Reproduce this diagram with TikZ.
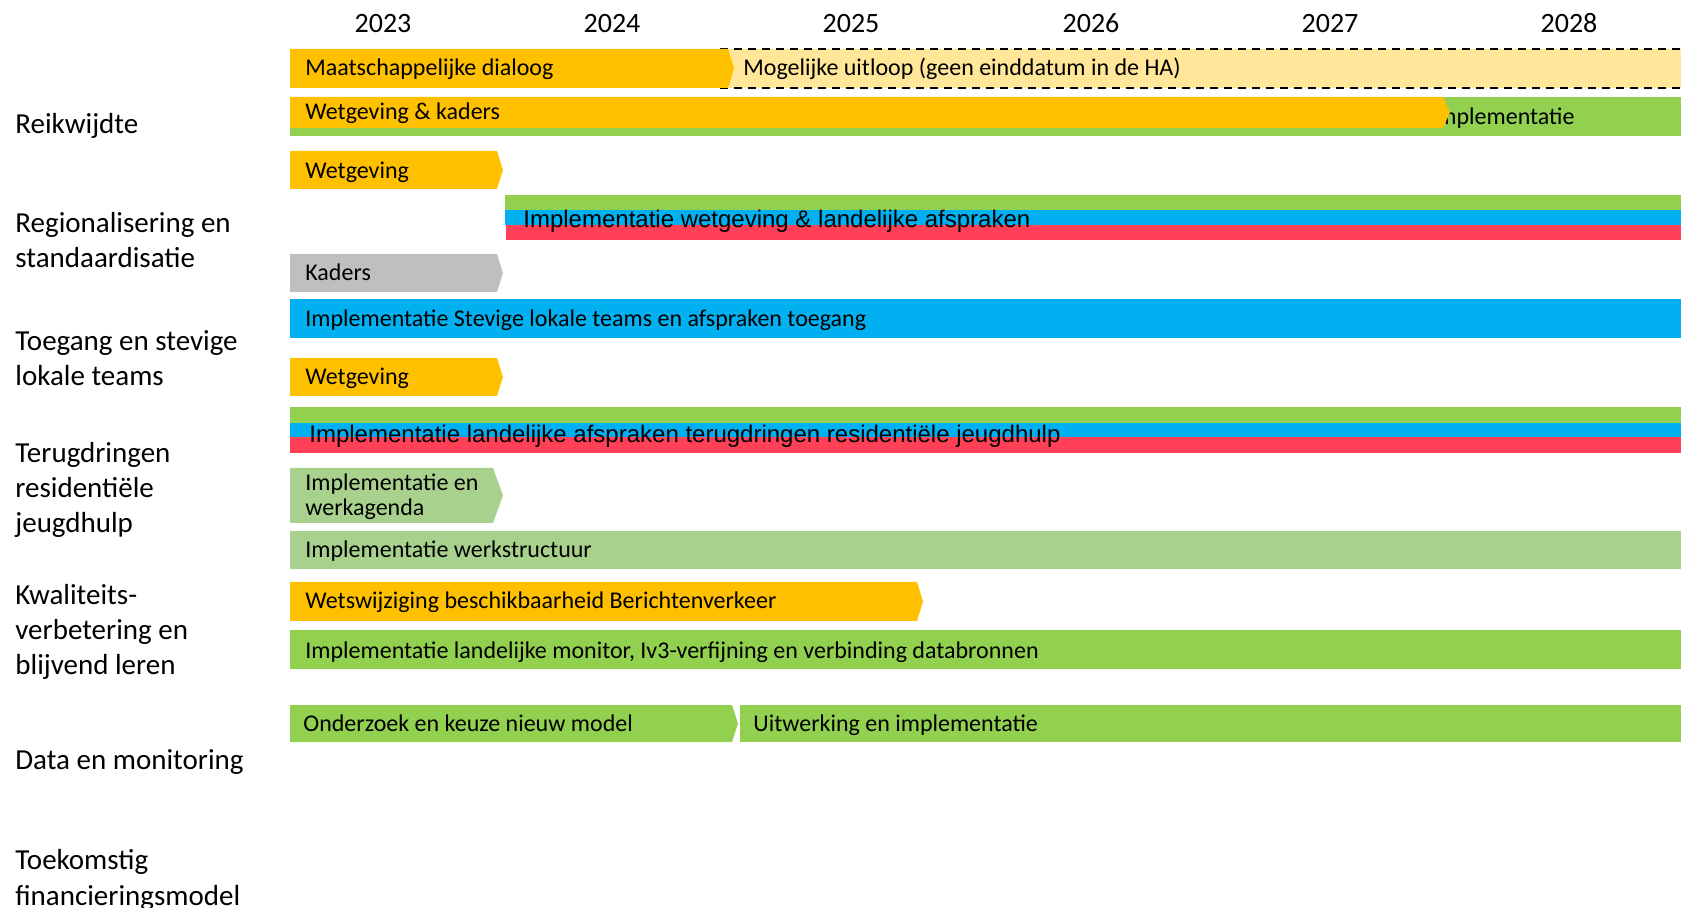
\documentclass[tikz,border=0pt]{standalone}
\usepackage{fontspec}
\setmainfont{Carlito}
\newfontfamily\arialfont{Liberation Sans}
\definecolor{cOrange}{HTML}{FFC000}
\definecolor{cPale}{HTML}{FFE699}
\definecolor{cGreen}{HTML}{92D050}
\definecolor{cLightGreen}{HTML}{A9D18E}
\definecolor{cBlue}{HTML}{00B0F0}
\definecolor{cRed}{HTML}{FF4057}
\definecolor{cGray}{HTML}{BFBFBF}
\begin{document}
\begin{tikzpicture}[x=0.5pt,y=-0.5pt,
		yeartxt/.style={anchor=base,inner sep=0pt,font=\fontsize{14}{16}\selectfont},
		bartxt/.style={anchor=base west,inner sep=0pt,font=\fontsize{12}{12.8}\selectfont},
		triotxt/.style={anchor=base west,inner sep=0pt,font=\arialfont\fontsize{12}{13}\selectfont},
		lbltxt/.style={anchor=base west,inner sep=0pt,align=left,font=\fontsize{14.5}{17.7}\selectfont}]
			\useasboundingbox (0,0) rectangle (1681,908);
			% jaren
			\node[yeartxt] (y2023) at (383,33) {2023};
			\node[yeartxt] (y2024) at (612,33) {2024};
			\node[yeartxt] (y2025) at (851,33) {2025};
			\node[yeartxt] (y2026) at (1091,33) {2026};
			\node[yeartxt] (y2027) at (1330,33) {2027};
			\node[yeartxt] (y2028) at (1569,33) {2028};
			% thema's (base = laatste regel)
			\node[lbltxt] (reik) at (15,134) {Reikwijdte};
			\node[lbltxt] (regio) at (15,268) {Regionalisering en\\standaardisatie};
			\node[lbltxt] (toeg) at (15,386) {Toegang en stevige\\lokale teams};
			\node[lbltxt] (terug) at (15,533) {Terugdringen\\residenti\"ele\\jeugdhulp};
			\node[lbltxt] (kwal) at (15,675) {Kwaliteits-\\verbetering en\\blijvend leren};
			\node[lbltxt] (data) at (15,769) {Data en monitoring};
			\node[lbltxt] (fin) at (15,905) {Toekomstig\\financieringsmodel};
			% reikwijdte
			\fill[cPale] (720,49) rectangle (1681,88);
			\draw[line width=1pt,dash pattern=on 4pt off 3pt] (720,49) -- (1681,49);
			\draw[line width=1pt,dash pattern=on 4pt off 3pt] (720,88) -- (1681,88);
			\fill[cOrange] (290,49) -- (728,49) -- (734,68.5) -- (728,88) -- (290,88) -- cycle;
			\node[bartxt] (dialoog) at (305,76) {Maatschappelijke dialoog};
			\node[bartxt] (uitloop) at (743,76) {Mogelijke uitloop (geen einddatum in de HA)};
			\fill[cGreen] (290,97) rectangle (1681,136);
			\node[bartxt] (impl) at (1431,125) {Implementatie};
			\fill[cOrange] (290,97) -- (1443,97) -- (1450,112.5) -- (1443,128) -- (290,128) -- cycle;
			\node[bartxt] (wetkad) at (305,120) {Wetgeving \& kaders};
			% regionalisering
			\fill[cOrange] (290,151) -- (497,151) -- (503,170) -- (497,189) -- (290,189) -- cycle;
			\node[bartxt] (wet1) at (305,179) {Wetgeving};
			\fill[cGreen] (505,195) rectangle (1681,210);
			\fill[cBlue] (505,210) rectangle (1681,225);
			\fill[cRed] (506,225) rectangle (1681,240);
			\node[triotxt] (implwet) at (523,228) {Implementatie wetgeving \& landelijke afspraken};
			\fill[cGray] (290,254) -- (497,254) -- (503,273) -- (497,292) -- (290,292) -- cycle;
			\node[bartxt] (kaders) at (305,281) {Kaders};
			% toegang
			\fill[cBlue] (290,299) rectangle (1681,338);
			\node[bartxt] (stevig) at (305,327) {Implementatie Stevige lokale teams en afspraken toegang};
			% residentieel
			\fill[cOrange] (290,358) -- (497,358) -- (503,377) -- (497,396) -- (290,396) -- cycle;
			\node[bartxt] (wet2) at (305,385) {Wetgeving};
			\fill[cGreen] (290,407) rectangle (1681,423);
			\fill[cBlue] (290,423) rectangle (1681,437);
			\fill[cRed] (290,437) rectangle (1681,453);
			\node[triotxt] (implres) at (309,443) {Implementatie landelijke afspraken terugdringen residenti\"ele jeugdhulp};
			% kwaliteit
			\fill[cLightGreen] (290,468) -- (493,468) -- (503,495.5) -- (493,523) -- (290,523) -- cycle;
			\node[bartxt,align=left] (werkag) at (305,516) {Implementatie en\\werkagenda};
			\fill[cLightGreen] (290,531) rectangle (1681,569);
			\node[bartxt] (werkstr) at (305,558) {Implementatie werkstructuur};
			% data
			\fill[cOrange] (290,582) -- (917,582) -- (923,601.5) -- (917,621) -- (290,621) -- cycle;
			\node[bartxt] (berver) at (305,609) {Wetswijziging beschikbaarheid Berichtenverkeer};
			\fill[cGreen] (290,630) rectangle (1681,669);
			\node[bartxt] (monitor) at (305,658) {Implementatie landelijke monitor, Iv3-verfijning en verbinding databronnen};
			% financiering
			\fill[cGreen] (290,705) -- (732,705) -- (738,723.5) -- (732,742) -- (290,742) -- cycle;
			\node[bartxt] (onderz) at (303,731) {Onderzoek en keuze nieuw model};
			\fill[cGreen] (740,705) rectangle (1681,742);
			\node[bartxt] (uitw) at (753,731) {Uitwerking en implementatie};
		\end{tikzpicture}
\end{document}
